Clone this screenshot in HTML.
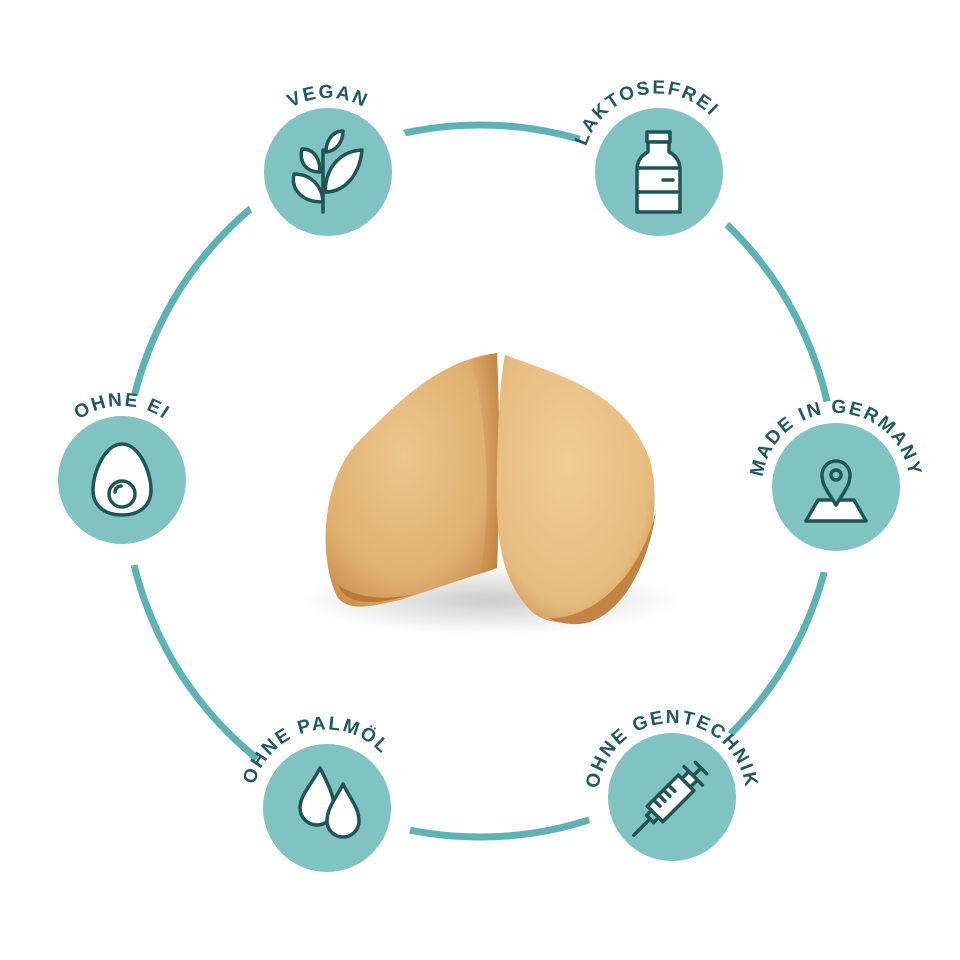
<!DOCTYPE html>
<html><head><meta charset="utf-8"><style>
html,body{margin:0;padding:0;background:#fff;}
svg{display:block}
text{font-family:"Liberation Sans",sans-serif;font-weight:bold;font-size:19px;fill:#23595b;letter-spacing:2px}
</style></head><body>
<svg width="960" height="960" viewBox="0 0 960 960" xmlns="http://www.w3.org/2000/svg">
<defs>
<radialGradient id="gl" cx="0.45" cy="0.4" r="0.7"><stop offset="0" stop-color="#ecc68c"/><stop offset="0.7" stop-color="#e0b070"/><stop offset="1" stop-color="#c98d4a"/></radialGradient>
<radialGradient id="gr" cx="0.45" cy="0.4" r="0.7"><stop offset="0" stop-color="#f0cd96"/><stop offset="0.75" stop-color="#e6bb7e"/><stop offset="1" stop-color="#c98e4c"/></radialGradient>
<linearGradient id="fold" x1="0" y1="0" x2="1" y2="0"><stop offset="0" stop-color="#c98a45" stop-opacity="0"/><stop offset="1" stop-color="#b87a38" stop-opacity="0.6"/></linearGradient>
<radialGradient id="sh" cx="0.5" cy="0.5" r="0.5"><stop offset="0" stop-color="#999" stop-opacity="0.5"/><stop offset="1" stop-color="#999" stop-opacity="0"/></radialGradient>
<path id="a1" d="M254,172 A74,74 0 0 1 402,172"/>
<path id="a2" d="M585,185 A74,74 0 0 1 730,151"/>
<path id="a3" d="M762,487 A74,74 0 0 1 910,487"/>
<path id="a4" d="M48,480 A74,74 0 0 1 196,480"/>
<path id="a5" d="M254,821 A74,74 0 0 1 399,787"/>
<path id="a6" d="M598,797 A74,74 0 0 1 746,797"/>
</defs>
<circle cx="480" cy="481" r="356" fill="none" stroke="#5fb2b4" stroke-width="7"/>
<g fill="#fff">
<circle cx="328" cy="172" r="86"/><circle cx="659" cy="172" r="86"/>
<circle cx="836" cy="487" r="86"/><circle cx="122" cy="480" r="86"/>
<circle cx="327" cy="808" r="86"/><circle cx="672" cy="797" r="86"/>
</g>
<g fill="#80c3c2">
<circle cx="328" cy="172" r="64"/><circle cx="659" cy="172" r="64"/>
<circle cx="836" cy="487" r="64"/><circle cx="122" cy="480" r="64"/>
<circle cx="327" cy="808" r="64"/><circle cx="672" cy="797" r="64"/>
</g>
<text><textPath href="#a1" startOffset="50%" text-anchor="middle">VEGAN</textPath></text>
<text><textPath href="#a2" startOffset="50%" text-anchor="middle">LAKTOSEFREI</textPath></text>
<text><textPath href="#a3" startOffset="50%" text-anchor="middle">MADE IN GERMANY</textPath></text>
<text><textPath href="#a4" startOffset="50%" text-anchor="middle">OHNE EI</textPath></text>
<text><textPath href="#a5" startOffset="50%" text-anchor="middle">OHNE PALMÖL</textPath></text>
<text><textPath href="#a6" startOffset="50%" text-anchor="middle">OHNE GENTECHNIK</textPath></text>
<g stroke="#1f5556" stroke-width="3.5" fill="#fff" stroke-linejoin="round" stroke-linecap="round">
<path d="M323,212 L323,150" fill="none"/>
<path d="M323,202 C300,202 291,188 294,174 C310,174 322,185 323,202Z"/>
<path d="M325,192 C347,192 360,172 362,150 C342,151 326,165 325,192Z"/>
<path d="M320,172 C305,172 299,161 302,149 C314,149 320,158 320,172Z"/>
<path d="M326,152 C337,151 343,141 343,131 C333,131 326,140 326,152Z"/>
<path d="M647,132 L670,132 L670,142 L647,142Z"/>
<path d="M648,142 L669,142 L669,152 C677,156 680,162 680,170 L680,212 L637,212 L637,170 C637,162 640,156 648,152Z"/>
<path d="M637,168 L680,168 M637,192 L680,192" fill="none"/>
<path d="M663,180 L673,180" fill="none"/>
<path d="M806,521 L818,500 L854,500 L866,521Z"/>
<path d="M836,505 C828,492 822,485 822,475 A14,14 0 0 1 850,475 C850,485 844,492 836,505Z" fill="#80c3c2"/>
<circle cx="836" cy="475" r="5" fill="#80c3c2"/>
<path d="M122,444 C139,444 151,472 151,490 C151,506 139,515 122,515 C105,515 93,506 93,490 C93,472 105,444 122,444Z"/>
<circle cx="122" cy="494" r="13"/>
<path d="M115,492 A6,6 0 0 1 121,486" fill="none"/>
<path d="M320,768 C312,784 300,795 300,808 A17,17 0 0 0 334,808 C334,795 328,784 320,768Z"/>
<path d="M343,784 C335,800 327,808 327,821 A16,16 0 0 0 359,821 C359,808 351,800 343,784Z"/>
<g transform="rotate(-45 672 797)">
<path d="M648,786 L692,786 L692,808 L648,808Z"/>
<path d="M692,791 L702,791 L702,803 L692,803Z"/>
<path d="M702,784 L702,810 M702,797 L713,797 M713,789 L713,805" fill="none"/>
<path d="M648,792 L641,792 L641,802 L648,802" fill="none"/>
<path d="M641,797 L618,797" fill="none"/>
<path d="M657,786 L657,795 M664,786 L664,795 M671,786 L671,795 M678,786 L678,795" fill="none"/>
</g>
</g>
<ellipse cx="490" cy="600" rx="190" ry="35" fill="url(#sh)"/>
<path d="M497,353 C440,360 400,400 360,440 C320,480 318,560 338,598 C350,612 372,606 400,600 L497,568 C500,500 500,420 497,353Z" fill="url(#gl)"/>
<path d="M470,360 C490,420 490,520 480,575 L497,568 C500,500 500,420 497,353Z" fill="url(#fold)"/>
<path d="M338,585 C345,602 365,606 400,598 L420,593 C390,600 360,600 338,585Z" fill="#b9793a"/>
<path d="M505,355 C560,375 625,392 650,460 C665,520 642,582 600,615 C578,626 545,626 530,610 C502,580 495,540 497,470 C498,420 500,380 505,355Z" fill="url(#gr)"/>
<path d="M548,618 C590,620 640,580 656,510 C650,560 625,610 590,622 C575,626 560,624 548,618Z" fill="#c28444"/>
</svg>
</body></html>
